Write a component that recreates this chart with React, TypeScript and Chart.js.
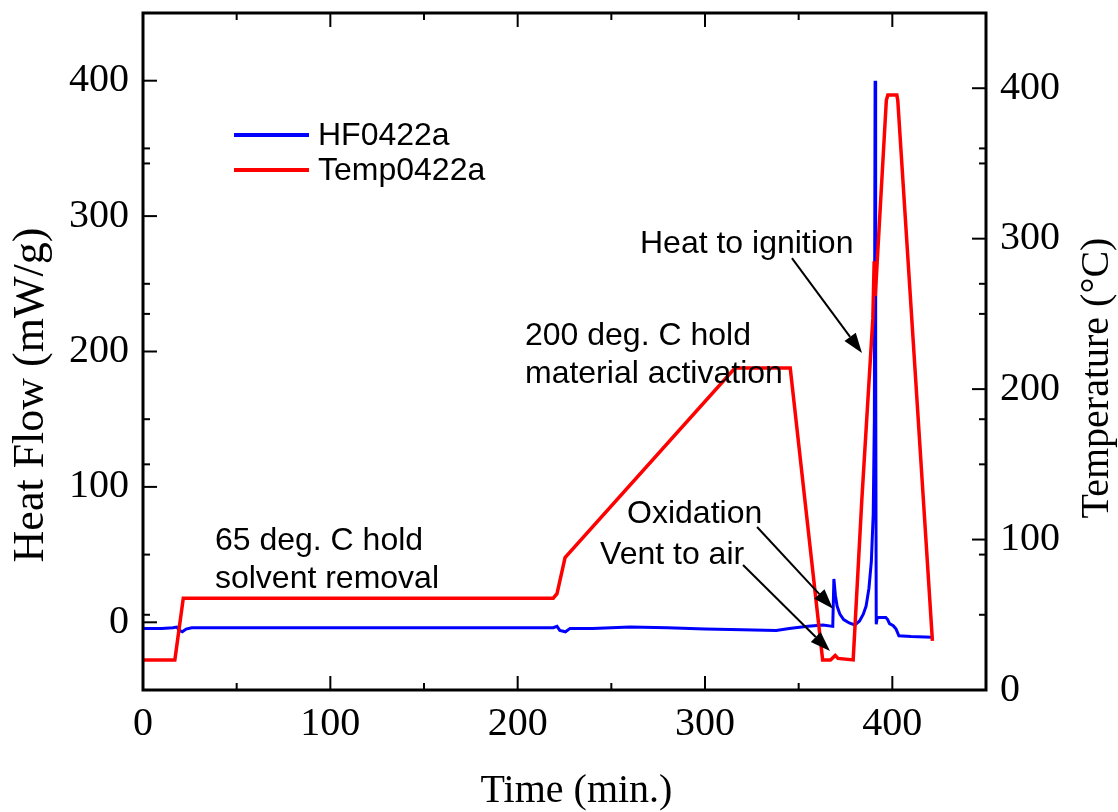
import React, { useEffect, useRef } from "react";
import { Chart, registerables } from "chart.js";

Chart.register(...registerables);

// Heat flow (mW/g) vs time (min)
const hfTime = [0, 10, 16, 18, 19.5, 21, 23, 26, 60, 120, 180, 219, 221, 222.5, 225.5, 228, 240, 260, 280, 300, 320, 338, 345, 355, 363, 368.2, 368.8, 369.6, 370.5, 372, 374, 377, 380, 382.5, 384.5, 386, 387.5, 388.8, 389.8, 390.4, 390.8, 391.1, 391.4, 391.9, 396.5, 397.5, 398.5, 400.5, 402, 403.5, 410, 421.2];
const hfValues = [-4.5, -4.5, -4, -3.5, -6, -7, -5, -4, -4, -4, -4, -4, -3, -6, -7, -4.5, -4.5, -3.5, -4, -5, -5.5, -6, -4.5, -3, -2, -3, 32, 20, 12, 6, 2, -0.5, -2, 1, 6, 12, 25, 45, 80, 150, 400, 200, -1.5, 3.5, 3.5, 2, -1, -2.5, -5, -10, -10.5, -11];

// Temperature (°C) vs time (min)
const tempTime = [0, 17, 21.5, 60, 120, 180, 219, 221, 225.3, 316, 345.5, 362.8, 367, 369.5, 371, 379.1, 383.7, 389.6, 390.3, 390.9, 396.8, 397.6, 402.4, 402.9, 421.4];
const tempValues = [20, 20, 61, 61, 61, 61, 61, 64, 88, 214, 214, 20, 20, 23, 21, 20, 126, 247, 285, 262, 392, 395.5, 395.5, 392, 32.6];

const xTicks = [0, 100, 200, 300, 400];
const xMinor = [50, 150, 250, 350];
const leftTicks = [0, 100, 200, 300, 400];
const leftMinor = [50, 150, 250, 350];
const rightTicks = [0, 100, 200, 300, 400];
const rightMinor = [50, 150, 250, 350];

const seriesNames = ["HF0422a", "Temp0422a"];
const seriesColors = ["#0000ff", "#ff0000"];

// annotation text, placed in data units (time, heat flow)
const notes = [
  { text: "65 deg. C hold", t: 38.4, hf: 53.4 },
  { text: "solvent removal", t: 38.4, hf: 25.3 },
  { text: "200 deg. C hold", t: 203.9, hf: 204.8 },
  { text: "material activation", t: 203.9, hf: 176.7 },
  { text: "Heat to ignition", t: 265.3, hf: 272.7 },
  { text: "Oxidation", t: 258.4, hf: 73.3 },
  { text: "Vent to air", t: 244, hf: 43 },
];
const arrows = [
  { t0: 346.4, h0: 269, t1: 383.8, h1: 198.9 },
  { t0: 327.8, h0: 70.4, t1: 368.3, h1: 10 },
  { t0: 320.3, h0: 42.3, t1: 366.7, h1: -21.2 },
];

const SERIF = "'Liberation Serif', 'Times New Roman', serif";
const SANS = "'Liberation Sans', Arial, sans-serif";

const decor = {
  id: "decor",
  afterDraw(chart: any) {
    const { ctx, chartArea } = chart;
    const { left, right, top, bottom } = chartArea;
    const x = chart.scales.x;
    const yL = chart.scales.yL;
    const yR = chart.scales.yR;
    ctx.save();
    ctx.strokeStyle = "#000";
    ctx.fillStyle = "#000";
    ctx.lineWidth = 3;
    ctx.strokeRect(left, top, right - left, bottom - top);

    const MAJ = 14;
    const MIN = 7;
    ctx.lineWidth = 2;
    const line = (x0: number, y0: number, x1: number, y1: number) => {
      ctx.beginPath();
      ctx.moveTo(x0, y0);
      ctx.lineTo(x1, y1);
      ctx.stroke();
    };
    xTicks.forEach((v) => {
      const px = x.getPixelForValue(v);
      line(px, bottom, px, bottom - MAJ);
      line(px, top, px, top + MAJ);
    });
    xMinor.forEach((v) => {
      const px = x.getPixelForValue(v);
      line(px, bottom, px, bottom - MIN);
      line(px, top, px, top + MIN);
    });
    leftTicks.forEach((v) => {
      const py = yL.getPixelForValue(v);
      line(left, py, left + MAJ, py);
    });
    leftMinor.forEach((v) => {
      const py = yL.getPixelForValue(v);
      line(left, py, left + MIN, py);
      line(right, py, right - MIN, py);
    });
    rightTicks.forEach((v) => {
      const py = yR.getPixelForValue(v);
      line(right, py, right - MAJ, py);
    });
    rightMinor.forEach((v) => {
      const py = yR.getPixelForValue(v);
      line(right, py, right - MIN, py);
      line(left, py, left + MIN, py);
    });

    // tick labels
    ctx.font = `40px ${SERIF}`;
    ctx.textBaseline = "middle";
    ctx.textAlign = "center";
    xTicks.forEach((v) => {
      ctx.fillText(String(v), x.getPixelForValue(v), bottom + 34);
    });
    ctx.textAlign = "right";
    leftTicks.forEach((v) => {
      ctx.fillText(String(v), left - 14, yL.getPixelForValue(v));
    });
    ctx.textAlign = "left";
    rightTicks.forEach((v) => {
      ctx.fillText(String(v), right + 14, yR.getPixelForValue(v));
    });

    // axis titles
    ctx.textAlign = "center";
    ctx.fillText("Time (min.)", (left + right) / 2 + 12, bottom + 101);
    ctx.save();
    ctx.translate(31, 395);
    ctx.rotate(-Math.PI / 2);
    ctx.font = `44px ${SERIF}`;
    ctx.fillText("Heat Flow (mW/g)", 0, 0);
    ctx.restore();
    ctx.save();
    ctx.translate(1097, 378);
    ctx.rotate(-Math.PI / 2);
    ctx.fillText("Temperature (\u00B0C)", 0, 0);
    ctx.restore();

    // legend
    ctx.lineWidth = 4;
    seriesNames.forEach((name, i) => {
      const ly = top + 122 + i * 35;
      ctx.strokeStyle = seriesColors[i];
      line(left + 91, ly, left + 166, ly);
      ctx.fillStyle = "#000";
      ctx.font = `32px ${SANS}`;
      ctx.textAlign = "left";
      ctx.textBaseline = "middle";
      ctx.fillText(name, left + 175, ly + 1);
    });

    // annotations
    ctx.fillStyle = "#000";
    ctx.font = `32px ${SANS}`;
    ctx.textAlign = "left";
    ctx.textBaseline = "alphabetic";
    notes.forEach((n) => {
      ctx.fillText(n.text, x.getPixelForValue(n.t), yL.getPixelForValue(n.hf));
    });
    ctx.strokeStyle = "#000";
    ctx.lineWidth = 2;
    arrows.forEach((a) => {
      const x0 = x.getPixelForValue(a.t0);
      const y0 = yL.getPixelForValue(a.h0);
      const x1 = x.getPixelForValue(a.t1);
      const y1 = yL.getPixelForValue(a.h1);
      const ang = Math.atan2(y1 - y0, x1 - x0);
      const L = 20;
      const W = 7;
      const bx = x1 - L * Math.cos(ang);
      const by = y1 - L * Math.sin(ang);
      line(x0, y0, bx, by);
      ctx.beginPath();
      ctx.moveTo(x1, y1);
      ctx.lineTo(bx + W * Math.sin(ang), by - W * Math.cos(ang));
      ctx.lineTo(bx - W * Math.sin(ang), by + W * Math.cos(ang));
      ctx.closePath();
      ctx.fill();
    });
    ctx.restore();
  },
};

export default function App() {
  const ref = useRef<HTMLCanvasElement | null>(null);
  useEffect(() => {
    document.body.style.margin = "0";
    const canvas = ref.current;
    if (!canvas) return;
    const chart = new Chart(canvas, {
      type: "line",
      data: {
        datasets: [
          {
            label: seriesNames[1],
            data: tempTime.map((t, i) => ({ x: t, y: tempValues[i] })),
            borderColor: seriesColors[1],
            borderWidth: 3.5,
            pointRadius: 0,
            tension: 0,
            yAxisID: "yR",
          },
          {
            label: seriesNames[0],
            data: hfTime.map((t, i) => ({ x: t, y: hfValues[i] })),
            borderColor: seriesColors[0],
            borderWidth: 3,
            pointRadius: 0,
            tension: 0,
            yAxisID: "yL",
          },
        ],
      },
      options: {
        responsive: false,
        animation: false,
        devicePixelRatio: 1,
        layout: { padding: { left: 143, top: 13, right: 132, bottom: 122 } },
        plugins: { legend: { display: false }, tooltip: { enabled: false } },
        scales: {
          x: { type: "linear", min: 0, max: 450, display: false },
          yL: { type: "linear", position: "left", min: -50, max: 450, display: false },
          yR: { type: "linear", position: "right", min: 0, max: 450, display: false },
        },
      },
      plugins: [decor],
    });
    return () => chart.destroy();
  }, []);
  return <canvas ref={ref} width={1118} height={812} style={{ display: "block" }} />;
}
